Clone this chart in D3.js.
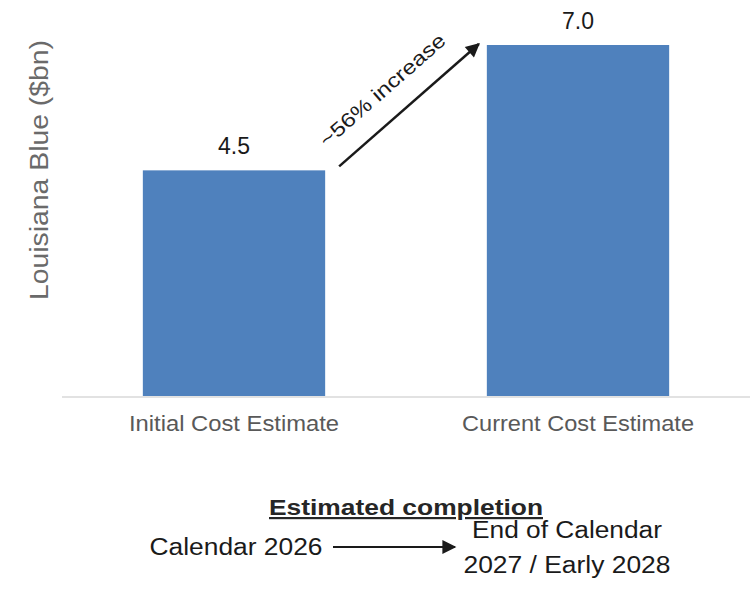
<!DOCTYPE html>
<html><head><meta charset="utf-8">
<script src="https://cdn.jsdelivr.net/npm/d3@7"></script>
<style>body{margin:0;background:#fff}svg{display:block}text{font-family:"Liberation Sans",Arial,sans-serif}</style>
</head><body>
<svg id="c" width="753" height="603"></svg>
<script>
const categories = ["Initial Cost Estimate", "Current Cost Estimate"];
const values = [4.5, 7.0];
const valueLabels = ["4.5", "7.0"];
const yLabel = "Louisiana Blue ($bn)";
const changeLabel = "~56% increase";
const completionTitle = "Estimated completion";
const completionFrom = ["Calendar 2026"];
const completionTo = ["End of Calendar", "2027 / Early 2028"];

const svg = d3.select("#c");
const x = d3.scaleBand().domain(categories).range([62, 750]).paddingInner(0.47).paddingOuter(0.235);
const y = d3.scaleLinear().domain([0, 7]).range([396, 45]);

svg.append("defs").append("marker").attr("id","ah2").attr("viewBox","0 0 10 10")
  .attr("refX",9).attr("refY",5).attr("markerWidth",16).attr("markerHeight",14)
  .attr("markerUnits","userSpaceOnUse").attr("orient","auto")
  .append("path").attr("d","M0,0 L10,5 L0,10 Z").attr("fill","#1a1a1a");

svg.selectAll("rect.bar").data(values).join("rect").attr("class","bar")
  .attr("x",(d,i)=>x(categories[i])).attr("width",x.bandwidth())
  .attr("y",d=>y(d)).attr("height",d=>y(0)-y(d)).attr("fill","#4f81bd");

svg.append("line").attr("x1",62).attr("x2",750).attr("y1",y(0)+1).attr("y2",y(0)+1)
  .attr("stroke","#d9d9d9").attr("stroke-width",1.5);

svg.selectAll("text.val").data(values).join("text").attr("class","val")
  .attr("x",(d,i)=>x(categories[i])+x.bandwidth()/2).attr("y",d=>y(d)-16)
  .attr("text-anchor","middle").attr("font-size",23).attr("fill","#1a1a1a")
  .text((d,i)=>valueLabels[i]);

const catW = [210, 232];
svg.selectAll("text.cat").data(categories).join("text").attr("class","cat")
  .attr("x",d=>x(d)+x.bandwidth()/2).attr("y",431)
  .attr("text-anchor","middle").attr("font-size",21.5).attr("fill","#595959")
  .attr("textLength",(d,i)=>catW[i]).attr("lengthAdjust","spacingAndGlyphs").text(d=>d);

svg.append("text").attr("transform","translate(48,170) rotate(-90)")
  .attr("text-anchor","middle").attr("font-size",25).attr("fill","#6a6a6a")
  .attr("textLength",260).attr("lengthAdjust","spacingAndGlyphs").text(yLabel);

// increase arrow
const ax1 = x(categories[0]) + x.bandwidth() + 14, ay1 = y(values[0]) - 4;
const ax2 = x(categories[1]) - 8, ay2 = y(values[1]) - 1;
svg.append("line").attr("x1",ax1).attr("y1",ay1).attr("x2",ax2).attr("y2",ay2)
  .attr("stroke","#1a1a1a").attr("stroke-width",2.5).attr("marker-end","url(#ah2)");
const ang = Math.atan2(ay2-ay1, ax2-ax1)*180/Math.PI;
svg.append("text").attr("transform",`translate(${(ax1+ax2)/2-22},${(ay1+ay2)/2-10}) rotate(${ang})`)
  .attr("text-anchor","middle").attr("font-size",20).attr("fill","#1a1a1a")
  .attr("textLength",160).attr("lengthAdjust","spacingAndGlyphs").text(changeLabel);

// completion
svg.append("text").attr("x",406).attr("y",515).attr("text-anchor","middle")
  .attr("font-size",22).attr("font-weight","bold").attr("fill","#262626")
  .attr("text-decoration","underline")
  .attr("textLength",274).attr("lengthAdjust","spacingAndGlyphs").text(completionTitle);
svg.append("text").attr("x",236).attr("y",555).attr("text-anchor","middle")
  .attr("font-size",23.5).attr("fill","#1a1a1a")
  .attr("textLength",173).attr("lengthAdjust","spacingAndGlyphs").text(completionFrom[0]);
svg.append("line").attr("x1",333).attr("x2",455).attr("y1",547).attr("y2",547)
  .attr("stroke","#1a1a1a").attr("stroke-width",2).attr("marker-end","url(#ah2)");
const toW = [190, 207];
svg.selectAll("text.to").data(completionTo).join("text").attr("class","to")
  .attr("x",567).attr("y",(d,i)=>538+i*35).attr("text-anchor","middle")
  .attr("font-size",23.5).attr("fill","#1a1a1a")
  .attr("textLength",(d,i)=>toW[i]).attr("lengthAdjust","spacingAndGlyphs").text(d=>d);
</script>
</body></html>
